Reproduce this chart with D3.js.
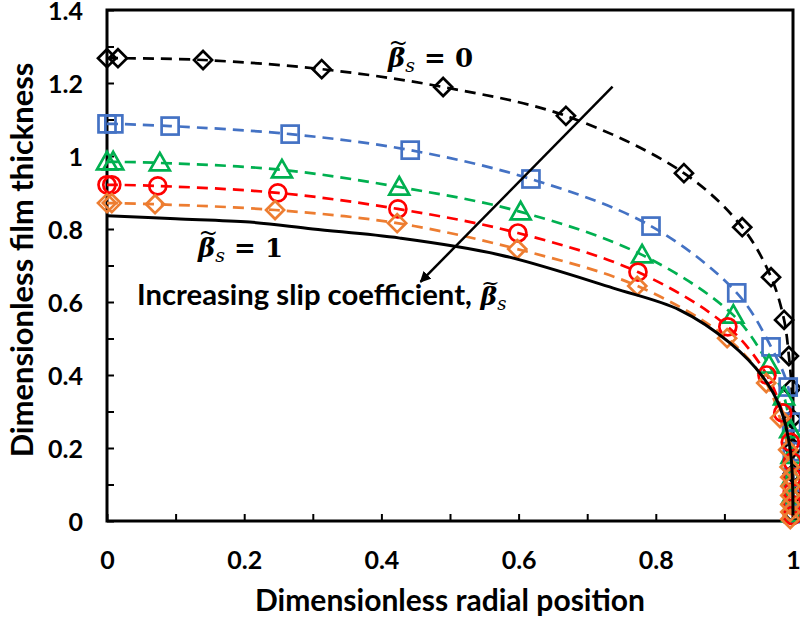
<!DOCTYPE html>
<html><head><meta charset="utf-8">
<script src="https://cdn.jsdelivr.net/npm/d3@7"></script>
<style>body{margin:0;background:#fff}svg{display:block}</style>
</head><body>
<svg id="c" width="800" height="621"></svg>
<script>
// ---- data ----
const xTickValues = [0,0.1,0.2,0.3,0.4,0.5,0.6,0.7,0.8,0.9,1.0];
const xTickLabels = ["0","","0.2","","0.4","","0.6","","0.8","","1"];
const yTickValues = [0,0.1,0.2,0.3,0.4,0.5,0.6,0.7,0.8,0.9,1.0,1.1,1.2,1.3,1.4];
const yTickLabels = ["0","","0.2","","0.4","","0.6","","0.8","","1","","1.2","","1.4"];

const beta0X = [0,0.016,0.14,0.313,0.49,0.669,0.841,0.926,0.968,0.987,0.994,0.998,0.999,1.0,1.0,1.0,1.0];
const beta0Y = [1.268,1.268,1.263,1.238,1.189,1.110,0.953,0.805,0.668,0.551,0.452,0.364,0.28,0.2,0.13,0.07,0.02];
const blueX = [0,0.010,0.092,0.267,0.442,0.618,0.793,0.918,0.968,0.993,0.998,0.999,1.0,1.0,1.0];
const blueY = [1.088,1.088,1.082,1.060,1.016,0.937,0.808,0.625,0.477,0.367,0.271,0.19,0.12,0.06,0.02];
const greenX = [0,0.009,0.077,0.255,0.426,0.603,0.780,0.913,0.965,0.987,0.996,0.998,0.999,0.999,0.999];
const greenY = [0.984,0.984,0.981,0.962,0.915,0.847,0.729,0.564,0.427,0.340,0.25,0.18,0.12,0.07,0.02];
const redX = [0,0.007,0.074,0.249,0.424,0.599,0.774,0.905,0.962,0.985,0.996,0.999,0.999,0.999,0.999,0.999];
const redY = [0.921,0.921,0.918,0.899,0.855,0.789,0.682,0.532,0.400,0.296,0.216,0.162,0.12,0.08,0.045,0.015];
const orangeX = [0,0.007,0.070,0.245,0.423,0.598,0.773,0.904,0.961,0.981,0.993,0.995,0.996,0.996,0.996,0.996,0.996,0.996];
const orangeY = [0.871,0.871,0.868,0.852,0.816,0.745,0.644,0.501,0.378,0.282,0.195,0.148,0.12,0.095,0.07,0.045,0.025,0.005];
const beta1X = [0,0.1,0.208,0.3,0.427,0.573,0.738,0.835,0.908,0.956,0.981,0.996,1.0];
const beta1Y = [0.836,0.828,0.819,0.8,0.775,0.729,0.638,0.578,0.488,0.395,0.312,0.195,0.016];

const arrowFrom = [0.737, 1.19];
const arrowTo = [0.457, 0.655];

// ---- layout ----
const svg = d3.select("#c");
const x = d3.scaleLinear([0,1],[107,793]);
const y = d3.scaleLinear([0,1.4],[521,10]);
const sans = "Lato, 'Open Sans', sans-serif";
const serif = "'DejaVu Serif', serif";

const series = [
  {xs: beta0X, ys: beta0Y, color:"#000000", sym:"diamond"},
  {xs: blueX, ys: blueY, color:"#4472C4", sym:"square"},
  {xs: greenX, ys: greenY, color:"#00B050", sym:"triangle"},
  {xs: redX, ys: redY, color:"#FF0000", sym:"circle"},
  {xs: orangeX, ys: orangeY, color:"#ED7D31", sym:"diamond"}
];

const xAxis = d3.axisBottom(x).tickValues(xTickValues)
  .tickFormat((d,i)=>xTickLabels[i]).tickSize(-7).tickPadding(30);
const yAxis = d3.axisLeft(y).tickValues(yTickValues)
  .tickFormat((d,i)=>yTickLabels[i]).tickSize(-7).tickPadding(24);

const gx = svg.append("g").attr("transform","translate(0,521)").call(xAxis);
const gy = svg.append("g").attr("transform","translate(107,0)").call(yAxis);
[gx,gy].forEach(g=>{
  g.select(".domain").remove();
  g.selectAll(".tick line").attr("stroke","#000").attr("stroke-width",2);
  g.selectAll(".tick text").attr("fill","#000").style("font-family",sans)
    .style("font-weight","bold").style("font-size","25px");
});
gy.selectAll(".tick text").attr("dy","0.36em");

svg.append("rect").attr("x",x(0)).attr("y",y(1.4))
  .attr("width",x(1)-x(0)).attr("height",y(0)-y(1.4))
  .attr("fill","none").attr("stroke","#000").attr("stroke-width",3);

const line = d3.line().curve(d3.curveCatmullRom.alpha(0.5));
series.forEach(s=>{
  const pts = s.xs.map((v,i)=>[x(v), y(s.ys[i])]);
  svg.append("path").attr("d", line(pts)).attr("fill","none")
    .attr("stroke", s.color).attr("stroke-width",2.7).attr("stroke-dasharray","11,7");
});
series.forEach(s=>{
  const pts = s.xs.map((v,i)=>[x(v), y(s.ys[i])]);
  const g = svg.append("g").attr("fill","none").attr("stroke",s.color).attr("stroke-width",2.7);
  pts.forEach(([cx,cy])=>{
    if (s.sym==="diamond") {
      const r=9;
      g.append("path").attr("d",`M${cx},${cy-r}L${cx+r},${cy}L${cx},${cy+r}L${cx-r},${cy}Z`);
    } else if (s.sym==="square") {
      const r=8.5;
      g.append("rect").attr("x",cx-r).attr("y",cy-r).attr("width",2*r).attr("height",2*r);
    } else if (s.sym==="triangle") {
      const r=10;
      g.append("path").attr("d",`M${cx},${cy-r}L${cx+r},${cy+r*0.75}L${cx-r},${cy+r*0.75}Z`);
    } else {
      g.append("circle").attr("cx",cx).attr("cy",cy).attr("r",8.5);
    }
  });
});

svg.append("path").attr("d", line(beta1X.map((v,i)=>[x(v), y(beta1Y[i])])))
  .attr("fill","none").attr("stroke","#000").attr("stroke-width",3);

svg.append("defs").append("marker").attr("id","ah").attr("viewBox","0 0 10 10")
  .attr("refX",9).attr("refY",5).attr("markerWidth",11).attr("markerHeight",11)
  .attr("markerUnits","userSpaceOnUse").attr("orient","auto")
  .append("path").attr("d","M0,0L10,5L0,10Z").attr("fill","#000");
svg.append("line").attr("x1",x(arrowFrom[0])).attr("y1",y(arrowFrom[1]))
  .attr("x2",x(arrowTo[0])).attr("y2",y(arrowTo[1]))
  .attr("stroke","#000").attr("stroke-width",2.5).attr("marker-end","url(#ah)");

// tilde over a character of a text element
function addTilde(t, idx, fs){
  const e = t.node().getExtentOfChar(idx);
  const base = +t.attr("y");
  svg.append("text").attr("x", e.x + e.width*0.6).attr("y", base - fs*0.62)
    .attr("text-anchor","middle").style("font-family",serif)
    .style("font-size", (fs*0.9)+"px").text("~");
}
function betaLabel(px, py, tail){
  const fs = 26;
  const t = svg.append("text").attr("x",px).attr("y",py)
    .style("font-family",serif).style("font-size",fs+"px").attr("fill","#000");
  t.append("tspan").text("\u03B2").style("font-weight","bold").style("font-style","italic");
  t.append("tspan").text("s").style("font-style","italic").style("font-size","19px").attr("dy",5);
  t.append("tspan").text(tail).style("font-weight","bold").attr("dy",-5);
  addTilde(t, 0, fs);
}
betaLabel(388, 67, " = 0");
betaLabel(198, 257, " = 1");

const inc = svg.append("text").attr("x",137).attr("y",305).attr("fill","#000")
  .style("font-family",sans).style("font-weight","bold").style("font-size","24px");
const incMain = inc.append("tspan").text("Increasing slip coefficient,");
let w = incMain.node().getComputedTextLength();
inc.style("font-size", (24*335/w)+"px");
inc.append("tspan").text("\u00A0\u03B2").style("font-family",serif).style("font-style","italic").style("font-size","25px");
inc.append("tspan").text("s").style("font-family",serif).style("font-style","italic").style("font-weight","normal").style("font-size","18px").attr("dy",5);
addTilde(inc, "Increasing slip coefficient, ".length, 25);

function fitText(sel, target){
  const base = 24;
  sel.style("font-size", base+"px");
  const len = sel.node().getComputedTextLength();
  sel.style("font-size", (base*target/len)+"px");
}
const xt = svg.append("text").attr("x",450).attr("y",611).attr("text-anchor","middle")
  .style("font-family",sans).style("font-weight","bold").text("Dimensionless radial position");
fitText(xt, 390);
const yt = svg.append("text").attr("transform","translate(33,260) rotate(-90)").attr("text-anchor","middle")
  .style("font-family",sans).style("font-weight","bold").text("Dimensionless film thickness");
fitText(yt, 395);
</script>
</body></html>
